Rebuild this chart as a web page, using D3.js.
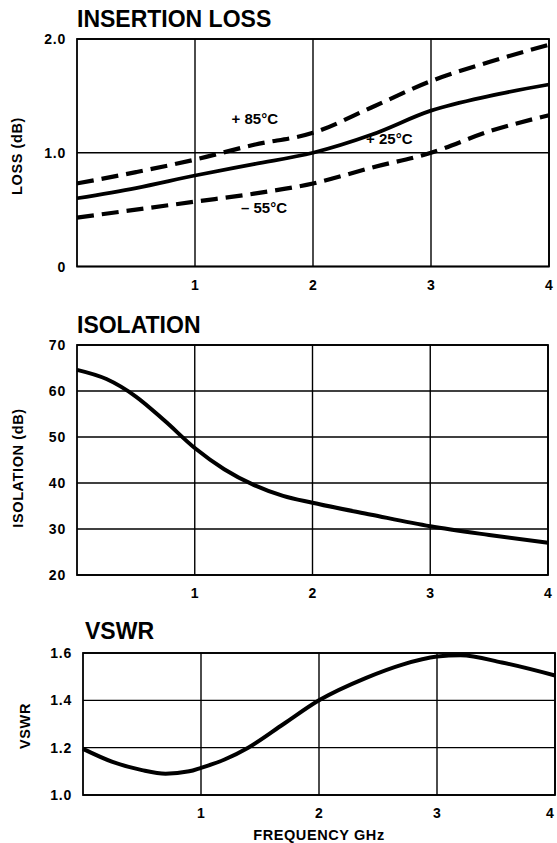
<!DOCTYPE html>
<html>
<head>
<meta charset="utf-8">
<script src="https://cdn.jsdelivr.net/npm/d3@7"></script>
<style>
  body { margin: 0; background: #fff; }
  text { font-family: "Liberation Sans", Arial, Helvetica, sans-serif; font-weight: bold; fill: #000; }
</style>
</head>
<body>
<script>
// frequency points (GHz) and readings
var freqLoss = [0, 0.5, 1, 1.5, 2, 2.5, 3, 3.5, 4];
var loss25 = [0.60, 0.69, 0.80, 0.90, 1.00, 1.16, 1.37, 1.50, 1.60];
var loss85 = [0.73, 0.83, 0.94, 1.07, 1.175, 1.40, 1.63, 1.80, 1.95];
var lossM55 = [0.43, 0.50, 0.57, 0.64, 0.73, 0.87, 1.00, 1.19, 1.33];
var tempLabels = ["+ 85°C", "+ 25°C", "\u2013 55°C"];
var tempLabelAt = [[1.31, 1.25], [2.45, 1.08], [1.39, 0.47]];

var freqIso = [0, 0.25, 0.5, 0.75, 1, 1.25, 1.5, 1.75, 2, 2.5, 3, 3.5, 4];
var isolation = [64.6, 62.6, 58.8, 53.4, 47.6, 43.0, 39.6, 37.2, 35.7, 33.1, 30.6, 28.7, 27.0];

var freqVswr = [0, 0.25, 0.5, 0.7, 0.9, 1, 1.2, 1.4, 1.7, 2, 2.4, 2.7, 3, 3.2, 3.55, 4];
var vswr = [1.195, 1.14, 1.105, 1.09, 1.10, 1.115, 1.15, 1.2, 1.3, 1.4, 1.495, 1.55, 1.585, 1.59, 1.56, 1.505];

var xTicks = [1, 2, 3, 4];
var lossTicks = [0, 1, 2];
var isoTicks = [20, 30, 40, 50, 60, 70];
var vswrTicks = [1.0, 1.2, 1.4, 1.6];

var svg = d3.select("body")
  .append("svg")
    .attr("width", 557)
    .attr("height", 843);

// draws one framed panel with its grid and labels, returns the scales
function panel(opt) {
  var x = d3.scaleLinear().domain([0, 4]).range(opt.xr);
  var y = d3.scaleLinear().domain(opt.yd).range(opt.yr);
  var g = svg.append("g");

  // grid
  g.selectAll(".vgrid")
    .data(xTicks)
    .enter()
    .append("line")
      .attr("x1", d => x(d)).attr("x2", d => x(d))
      .attr("y1", opt.yr[0]).attr("y2", opt.yr[1])
      .attr("stroke", "#000").attr("stroke-width", 1.4);
  g.selectAll(".hgrid")
    .data(opt.yTicks)
    .enter()
    .append("line")
      .attr("x1", opt.xr[0]).attr("x2", opt.xr[1])
      .attr("y1", d => y(d)).attr("y2", d => y(d))
      .attr("stroke", "#000").attr("stroke-width", 1.4);
  g.append("rect")
    .attr("x", opt.xr[0]).attr("y", opt.yr[1])
    .attr("width", opt.xr[1] - opt.xr[0])
    .attr("height", opt.yr[0] - opt.yr[1])
    .attr("fill", "none").attr("stroke", "#000").attr("stroke-width", 1.8);

  // tick labels
  g.selectAll(".ylab")
    .data(opt.yTicks)
    .enter()
    .append("text")
      .attr("x", opt.xr[0] - 11)
      .attr("y", d => y(d))
      .attr("dy", "0.36em")
      .attr("text-anchor", "end")
      .attr("font-size", 14)
      .attr("letter-spacing", 0.8)
      .text(opt.fmt);
  g.selectAll(".xlab")
    .data(xTicks)
    .enter()
    .append("text")
      .attr("x", d => Math.min(x(d), 550))
      .attr("y", opt.yr[0] + 18)
      .attr("dy", "0.36em")
      .attr("text-anchor", "middle")
      .attr("font-size", 14)
      .text(d => d);

  // title
  g.append("text")
    .attr("x", opt.titleX)
    .attr("y", opt.titleY)
    .attr("font-size", 23)
    .text(opt.title);

  // y axis label
  g.append("text")
    .attr("transform", "translate(" + opt.labX + "," + opt.labY + ") rotate(-90)")
    .attr("text-anchor", "middle")
    .attr("dy", "0.36em")
    .attr("font-size", 14.5)
    .attr("letter-spacing", 0.6)
    .text(opt.label);

  return {x: x, y: y, g: g};
}

function curve(p, xs, ys, dash, w) {
  var line = d3.line()
    .x(d => p.x(d[0]))
    .y(d => p.y(d[1]))
    .curve(d3.curveMonotoneX);
  p.g.append("path")
    .datum(d3.zip(xs, ys))
    .attr("d", line)
    .attr("fill", "none")
    .attr("stroke", "#000")
    .attr("stroke-width", w)
    .attr("stroke-dasharray", dash);
}

// insertion loss
var p1 = panel({xr: [77, 549], yr: [266.5, 39], yd: [0, 2], yTicks: lossTicks,
  fmt: d => d == 0 ? "0" : d3.format(".1f")(d),
  title: "INSERTION LOSS", titleX: 77, titleY: 27,
  label: "LOSS (dB)", labX: 17, labY: 156});
curve(p1, freqLoss, loss85, "17,8", 4.2);
curve(p1, freqLoss, loss25, null, 3.8);
curve(p1, freqLoss, lossM55, "17,8", 4.2);
p1.g.selectAll(".temp")
  .data(tempLabels)
  .enter()
  .append("text")
    .attr("x", (d, i) => p1.x(tempLabelAt[i][0]))
    .attr("y", (d, i) => p1.y(tempLabelAt[i][1]))
    .attr("font-size", 15)
    .text(d => d);

// isolation
var p2 = panel({xr: [77, 548], yr: [575, 345], yd: [20, 70], yTicks: isoTicks,
  fmt: d => d,
  title: "ISOLATION", titleX: 77, titleY: 333,
  label: "ISOLATION (dB)", labX: 18, labY: 468});
curve(p2, freqIso, isolation, null, 4);

// vswr
var p3 = panel({xr: [83, 555], yr: [795, 653], yd: [1.0, 1.6], yTicks: vswrTicks,
  fmt: d3.format(".1f"),
  title: "VSWR", titleX: 85, titleY: 639,
  label: "VSWR", labX: 25, labY: 726});
curve(p3, freqVswr, vswr, null, 4);

svg.append("text")
  .attr("x", 319)
  .attr("y", 840)
  .attr("text-anchor", "middle")
  .attr("font-size", 14.5)
  .attr("letter-spacing", 0.6)
  .text("FREQUENCY GHz");
</script>
</body>
</html>
